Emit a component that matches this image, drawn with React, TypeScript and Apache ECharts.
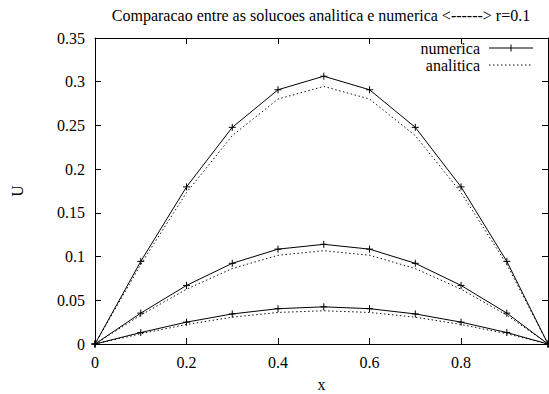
import React, { useEffect, useRef } from "react";
import * as echarts from "echarts";

// Grid points along x (the last node sits just short of 1)
const xs = [0, 0.1, 0.2, 0.3, 0.4, 0.5, 0.6, 0.7, 0.8, 0.9, 0.99];

// Numerical solution at three time levels
const numericaA = [0, 0.0945, 0.1797, 0.2478, 0.2908, 0.3063, 0.2908, 0.2478, 0.1797, 0.0945, 0];
const numericaB = [0, 0.0353, 0.067, 0.0923, 0.1085, 0.114, 0.1085, 0.0923, 0.067, 0.0353, 0];
const numericaC = [0, 0.0131, 0.025, 0.0344, 0.0404, 0.0425, 0.0404, 0.0344, 0.025, 0.0131, 0];

// Analytical solution at the same time levels
const analiticaA = [0, 0.091, 0.1732, 0.2383, 0.2802, 0.2946, 0.2802, 0.2383, 0.1732, 0.091, 0];
const analiticaB = [0, 0.033, 0.0627, 0.0863, 0.1015, 0.1067, 0.1015, 0.0863, 0.0627, 0.033, 0];
const analiticaC = [0, 0.0117, 0.0223, 0.0307, 0.0361, 0.038, 0.0361, 0.0307, 0.0223, 0.0117, 0];

const legendNames = ["numerica", "analitica"];

const TITLE = "Comparacao entre as solucoes analitica e numerica <------> r=0.1";
const FONT = "Liberation Serif";
const DOTS = [1.5, 2.5];

const pairs = (ys: number[]) => xs.map((x, i) => [x, ys[i]]);

const PLUS = "path://M5,0 L5,10 M0,5 L10,5";

export default function App() {
  const ref = useRef<HTMLDivElement>(null);

  useEffect(() => {
    if (!ref.current) return;
    const chart = echarts.init(ref.current, undefined, { renderer: "svg" });

    const numericaSeries = [numericaA, numericaB, numericaC].map((ys) => ({
      name: legendNames[0],
      type: "line",
      data: pairs(ys),
      symbol: PLUS,
      symbolSize: 7,
      showAllSymbol: true,
      lineStyle: { color: "#000", width: 1 },
      itemStyle: { color: "rgba(0,0,0,0)", borderColor: "#000", borderWidth: 1 },
      emphasis: { disabled: true },
      z: 3,
    }));

    const analiticaSeries = [analiticaA, analiticaB, analiticaC].map((ys) => ({
      name: legendNames[1],
      type: "line",
      data: pairs(ys),
      symbol: "none",
      lineStyle: { color: "#111", width: 1, type: DOTS },
      itemStyle: { color: "#111" },
      emphasis: { disabled: true },
      z: 2,
    }));

    const axisText = { fontFamily: FONT, fontSize: 16, color: "#000" };
    const xFmt = (v: number) =>
      Math.abs(v / 0.2 - Math.round(v / 0.2)) < 1e-6 ? String(+v.toFixed(1)) : "";

    // key box in the upper right corner: label, then a line sample
    const keyTextRight = 480;
    const keyLineX1 = 489;
    const keyLineX2 = 533;
    const keyRows = [48, 65];
    const keyMid = (keyLineX1 + keyLineX2) / 2;

    chart.setOption({
      animation: false,
      grid: { left: 95, right: 1, top: 38, bottom: 50, outerBoundsMode: "none" },
      graphic: [
        {
          type: "text",
          x: 321,
          y: 15,
          style: {
            text: TITLE,
            align: "center",
            verticalAlign: "middle",
            fontFamily: FONT,
            fontSize: 16,
            fill: "#000",
          },
        },
        ...legendNames.map((n, i) => ({
          type: "text",
          x: keyTextRight,
          y: keyRows[i],
          style: {
            text: n,
            align: "right",
            verticalAlign: "middle",
            fontFamily: FONT,
            fontSize: 16,
            fill: "#000",
          },
        })),
        {
          type: "line",
          shape: { x1: keyLineX1, y1: keyRows[0], x2: keyLineX2, y2: keyRows[0] },
          style: { stroke: "#000", lineWidth: 1 },
        },
        {
          type: "line",
          shape: { x1: keyMid, y1: keyRows[0] - 3.5, x2: keyMid, y2: keyRows[0] + 3.5 },
          style: { stroke: "#000", lineWidth: 1 },
        },
        {
          type: "line",
          shape: { x1: keyLineX1, y1: keyRows[1], x2: keyLineX2, y2: keyRows[1] },
          style: { stroke: "#111", lineWidth: 1, lineDash: DOTS },
        },
      ],
      xAxis: [
        {
          type: "value",
          min: 0,
          max: 0.99,
          interval: 0.2,
          position: "bottom",
          name: "x",
          nameLocation: "middle",
          nameGap: 32,
          nameTextStyle: axisText,
          axisLine: { show: true, onZero: false, lineStyle: { color: "#000", width: 1 } },
          axisTick: { show: true, inside: true, length: 6, lineStyle: { color: "#000" } },
          axisLabel: { ...axisText, margin: 10, showMaxLabel: false, formatter: xFmt },
          splitLine: { show: false },
        },
        {
          type: "value",
          min: 0,
          max: 0.99,
          interval: 0.2,
          position: "top",
          axisLine: { show: true, onZero: false, lineStyle: { color: "#000", width: 1 } },
          axisTick: { show: true, inside: true, length: 6, lineStyle: { color: "#000" } },
          axisLabel: { show: false },
          splitLine: { show: false },
        },
      ],
      yAxis: [
        {
          type: "value",
          min: 0,
          max: 0.35,
          interval: 0.05,
          position: "left",
          name: "U",
          nameLocation: "middle",
          nameGap: 70,
          nameRotate: 90,
          nameTextStyle: axisText,
          axisLine: { show: true, onZero: false, lineStyle: { color: "#000", width: 1 } },
          axisTick: { show: true, inside: true, length: 6, lineStyle: { color: "#000" } },
          axisLabel: { ...axisText, margin: 10, formatter: (v: number) => String(+v.toFixed(2)) },
          splitLine: { show: false },
        },
        {
          type: "value",
          min: 0,
          max: 0.35,
          interval: 0.05,
          position: "right",
          axisLine: { show: true, onZero: false, lineStyle: { color: "#000", width: 1 } },
          axisTick: { show: true, inside: true, length: 6, lineStyle: { color: "#000" } },
          axisLabel: { show: false },
          splitLine: { show: false },
        },
      ],
      series: [...numericaSeries, ...analiticaSeries],
    });

    return () => chart.dispose();
  }, []);

  return (
    <div
      ref={ref}
      style={{ position: "absolute", left: 0, top: 0, width: 549, height: 394, background: "#fff" }}
    />
  );
}
